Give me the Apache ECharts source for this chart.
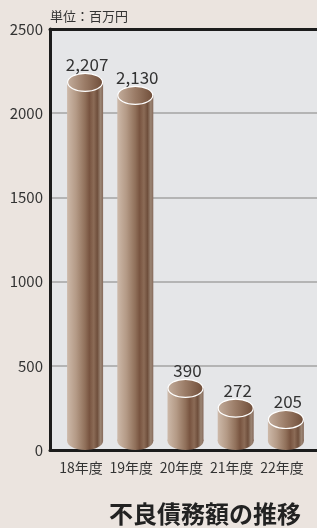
<!DOCTYPE html>
<html>
<head>
<meta charset="utf-8">
<script src="https://cdn.jsdelivr.net/npm/echarts@6/dist/echarts.min.js"></script>
<style>
  html, body { margin: 0; padding: 0; background: #ebe4df; }
  #chartWrap { width: 317px; height: 528px; }
</style>
</head>
<body>
<div id="chartWrap"></div>
<script>
// 不良債務額の推移（単位：百万円）
const categories = ['18年度', '19年度', '20年度', '21年度', '22年度'];
const values = [2207, 2130, 390, 272, 205];
const yTicks = [0, 500, 1000, 1500, 2000, 2500];

const FONT = '"Noto Sans CJK JP", "Noto Sans", sans-serif';
const textColor = '#333';

let myChart = echarts.init(document.getElementById('chartWrap'));

function bodyGrad() {
    return new echarts.graphic.LinearGradient(0, 0, 1, 0, [
        {offset: 0, color: '#cdb9a9'},
        {offset: 0.25, color: '#b49a86'},
        {offset: 0.5, color: '#90705a'},
        {offset: 0.62, color: '#785440'},
        {offset: 0.74, color: '#8b6b56'},
        {offset: 0.84, color: '#6f4f3c'},
        {offset: 0.93, color: '#9b8574'},
        {offset: 1, color: '#85695a'}
    ]);
}

function topGrad() {
    return new echarts.graphic.LinearGradient(0, 0, 1, 0, [
        {offset: 0, color: '#c4ae9d'},
        {offset: 0.5, color: '#9a7b66'},
        {offset: 1, color: '#6e4c38'}
    ]);
}

function renderCylinder(params, api) {
    const idx = api.value(0);
    const val = api.value(1);
    const top = api.coord([idx, val]);
    const base = api.coord([idx, 0]);
    const rx = 18, ry = 9;
    const cx = top[0];
    const topY = top[1] + 4;
    const botY = base[1] - ry;
    return {
        type: 'group',
        children: [
            {
                type: 'rect',
                shape: {x: cx - rx, y: topY, width: rx * 2, height: botY - topY},
                style: {fill: bodyGrad()}
            },
            {
                type: 'ellipse',
                shape: {cx: cx, cy: botY, rx: rx, ry: ry},
                style: {fill: bodyGrad()}
            },
            {
                type: 'ellipse',
                shape: {cx: cx, cy: topY, rx: rx - 0.5, ry: ry},
                style: {fill: topGrad(), stroke: '#ffffff', lineWidth: 1.2}
            },
            {
                type: 'text',
                style: {
                    text: val.toLocaleString('en-US'),
                    x: cx + 2,
                    y: topY - 18,
                    align: 'center',
                    verticalAlign: 'middle',
                    fontSize: 17,
                    fontFamily: FONT,
                    fill: textColor
                }
            }
        ]
    };
}

myChart.setOption({
    backgroundColor: '#ebe4df',
    animation: false,
    title: [{
        text: '単位：百万円',
        left: 45,
        top: 5,
        textStyle: {fontSize: 13, fontWeight: 'normal', color: textColor, fontFamily: FONT}
    }, {
        text: '不良債務額の推移',
        right: 11,
        top: 497,
        textStyle: {fontSize: 24, fontWeight: 'bold', color: '#222', fontFamily: FONT}
    }],
    grid: [
        {left: 50, right: -5, top: 29, bottom: 78, show: true, backgroundColor: '#e5e6e8', borderWidth: 0},
        {left: 60, right: 6, top: 29, bottom: 78}
    ],
    xAxis: [
        {
            type: 'value', gridIndex: 0, position: 'bottom',
            axisLine: {show: true, lineStyle: {color: '#1c1c1c', width: 3}},
            axisTick: {show: false}, axisLabel: {show: false}, splitLine: {show: false}
        },
        {
            type: 'value', gridIndex: 0, position: 'top',
            axisLine: {show: true, lineStyle: {color: '#1c1c1c', width: 3}},
            axisTick: {show: false}, axisLabel: {show: false}, splitLine: {show: false}
        },
        {
            type: 'category', gridIndex: 1, data: categories,
            axisLine: {show: false}, axisTick: {show: false},
            axisLabel: {
                margin: 11, fontSize: 14, color: textColor, fontFamily: FONT,
                interval: 0, padding: [0, 8, 0, 0]
            }
        }
    ],
    yAxis: [
        {
            type: 'value', gridIndex: 0, min: yTicks[0], max: yTicks[yTicks.length - 1], interval: 500,
            axisLine: {show: true, lineStyle: {color: '#1c1c1c', width: 3}},
            axisTick: {show: false},
            axisLabel: {
                margin: 7, fontSize: 15, color: textColor, fontFamily: FONT,
                formatter: v => String(v)
            },
            splitLine: {show: true, lineStyle: {color: '#a3a3a3', width: 1.5}}
        },
        {
            type: 'value', gridIndex: 1, min: yTicks[0], max: yTicks[yTicks.length - 1], interval: 500,
            show: false
        }
    ],
    series: [{
        type: 'custom',
        xAxisIndex: 2,
        yAxisIndex: 1,
        renderItem: renderCylinder,
        encode: {x: 0, y: 1},
        data: values.map((v, i) => [i, v]),
        z: 10
    }]
});
</script>
</body>
</html>
